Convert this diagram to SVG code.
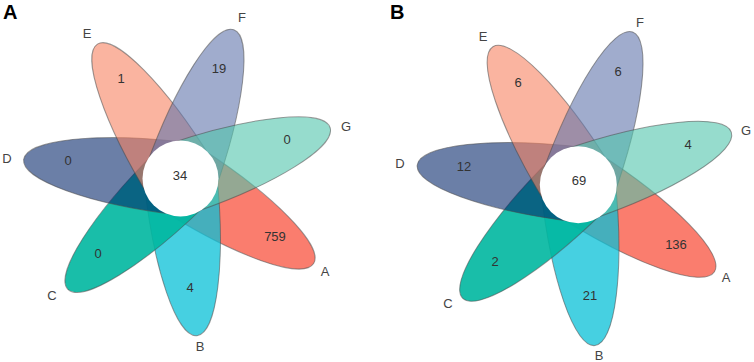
<svg xmlns="http://www.w3.org/2000/svg" width="754" height="362" viewBox="0 0 754 362">
<style>
.pet{stroke:#4a4a4a;stroke-opacity:.55;stroke-width:1}
.sA{fill:#F8523E;fill-opacity:.75}
.sB{fill:#08C0D7;fill-opacity:.75}
.sC{fill:#00B7A0;fill-opacity:.9}
.sD{fill:#002367;fill-opacity:.58}
.sE{fill:#F78261;fill-opacity:.6}
.sF{fill:#6175AC;fill-opacity:.6}
.sG{fill:#50C5AC;fill-opacity:.6}
.core{fill:#fff}
text{font-family:"Liberation Sans",Arial,sans-serif;fill:#333;text-anchor:middle}
.num{font-size:13px}
.lab{font-size:13px;fill:#444}
.panel{font-size:20px;font-weight:bold;fill:#000;text-anchor:start}
</style>
<defs>
<path id="pet" d="M0,-36.5 A158,36.5 0 0 1 0,36.5 Z"/>
</defs>
<rect width="754" height="362" fill="#fff"/>

<g id="panelA">
<text class="panel" x="3" y="19">A</text>
<g id="A-setA"><use href="#pet" class="pet sA" transform="translate(180.5 178.5) rotate(32.59)"/><text class="num" x="275" y="241">759</text><text class="lab" x="325" y="276">A</text></g>
<g id="A-setB"><use href="#pet" class="pet sB" transform="translate(180.5 178.5) rotate(84.01)"/><text class="num" x="190" y="292">4</text><text class="lab" x="200" y="351">B</text></g>
<g id="A-setC"><use href="#pet" class="pet sC" transform="translate(180.5 178.5) rotate(135.44)"/><text class="num" x="98" y="258">0</text><text class="lab" x="52" y="300">C</text></g>
<g id="A-setD"><use href="#pet" class="pet sD" transform="translate(180.5 178.5) rotate(186.87)"/><text class="num" x="68" y="165">0</text><text class="lab" x="7" y="163">D</text></g>
<g id="A-setE"><use href="#pet" class="pet sE" transform="translate(180.5 178.5) rotate(-121.7)"/><text class="num" x="121" y="83">1</text><text class="lab" x="87" y="38">E</text></g>
<g id="A-setF"><use href="#pet" class="pet sF" transform="translate(180.5 178.5) rotate(-70.27)"/><text class="num" x="219" y="73">19</text><text class="lab" x="242" y="22">F</text></g>
<g id="A-setG"><use href="#pet" class="pet sG" transform="translate(180.5 178.5) rotate(-18.84)"/><text class="num" x="287" y="144">0</text><text class="lab" x="346" y="131">G</text></g>
<g id="A-core"><circle class="core" cx="180.5" cy="178.5" r="38"/><text class="num" x="180" y="180">34</text></g>
</g>

<g id="panelB">
<text class="panel" x="390" y="19">B</text>
<g id="B-setA"><use href="#pet" class="pet sA" transform="translate(578 184.5) scale(1.025) rotate(32.59)"/><text class="num" x="676" y="249">136</text><text class="lab" x="726" y="282">A</text></g>
<g id="B-setB"><use href="#pet" class="pet sB" transform="translate(578 184.5) scale(1.025) rotate(84.01)"/><text class="num" x="590" y="300">21</text><text class="lab" x="599" y="360">B</text></g>
<g id="B-setC"><use href="#pet" class="pet sC" transform="translate(578 184.5) scale(1.025) rotate(135.44)"/><text class="num" x="495" y="266">2</text><text class="lab" x="448" y="308">C</text></g>
<g id="B-setD"><use href="#pet" class="pet sD" transform="translate(578 184.5) scale(1.025) rotate(186.87)"/><text class="num" x="464" y="171">12</text><text class="lab" x="400" y="168">D</text></g>
<g id="B-setE"><use href="#pet" class="pet sE" transform="translate(578 184.5) scale(1.025) rotate(-121.7)"/><text class="num" x="518" y="87">6</text><text class="lab" x="483" y="41">E</text></g>
<g id="B-setF"><use href="#pet" class="pet sF" transform="translate(578 184.5) scale(1.025) rotate(-70.27)"/><text class="num" x="618" y="76">6</text><text class="lab" x="640" y="27">F</text></g>
<g id="B-setG"><use href="#pet" class="pet sG" transform="translate(578 184.5) scale(1.025) rotate(-18.84)"/><text class="num" x="688" y="149">4</text><text class="lab" x="746" y="135">G</text></g>
<g id="B-core"><circle class="core" cx="578.3" cy="184.7" r="38.5"/><text class="num" x="579" y="185">69</text></g>
</g>
</svg>
